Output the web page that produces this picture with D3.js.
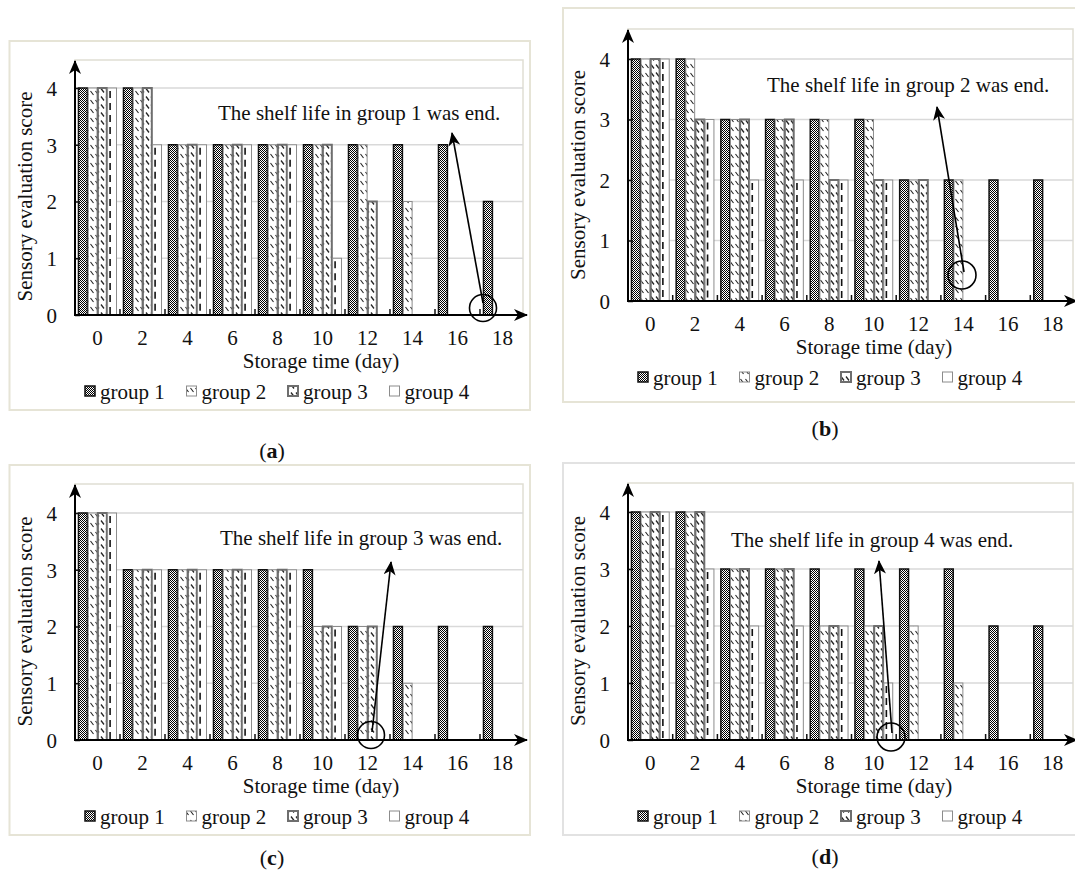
<!DOCTYPE html>
<html>
<head>
<meta charset="utf-8">
<script src="https://cdn.jsdelivr.net/npm/d3@7"></script>
<style>
body { margin: 0; background: #fff; }
text { font-family: "Liberation Serif", "Times New Roman", serif; fill: #111; }
</style>
</head>
<body>
<script>
var days = ["0", "2", "4", "6", "8", "10", "12", "14", "16", "18"];
var groups = ["group 1", "group 2", "group 3", "group 4"];
var yTicks = [0, 1, 2, 3, 4];

// one array per group, null = group no longer scored
var scoresA = [
    [4, 4, 3, 3, 3, 3, 3, 3, 3, 2],
    [4, 4, 3, 3, 3, 3, 3, 2, null, null],
    [4, 4, 3, 3, 3, 3, 2, null, null, null],
    [4, 3, 3, 3, 3, 1, null, null, null, null]
];
var scoresB = [
    [4, 4, 3, 3, 3, 3, 2, 2, 2, 2],
    [4, 4, 3, 3, 3, 3, 2, 2, null, null],
    [4, 3, 3, 3, 2, 2, 2, null, null, null],
    [4, 3, 2, 2, 2, 2, null, null, null, null]
];
var scoresC = [
    [4, 3, 3, 3, 3, 3, 2, 2, 2, 2],
    [4, 3, 3, 3, 3, 2, 2, 1, null, null],
    [4, 3, 3, 3, 3, 2, 2, null, null, null],
    [4, 3, 3, 3, 3, 2, null, null, null, null]
];
var scoresD = [
    [4, 4, 3, 3, 3, 3, 3, 3, 2, 2],
    [4, 4, 3, 3, 2, 2, 2, 1, null, null],
    [4, 4, 3, 3, 2, 2, null, null, null, null],
    [4, 3, 2, 2, 2, 1, null, null, null, null]
];
var notes = [
    "The shelf life in group 1 was end.",
    "The shelf life in group 2 was end.",
    "The shelf life in group 3 was end.",
    "The shelf life in group 4 was end."
];
var letters = ["a", "b", "c", "d"];

var panels = [
    {scores: scoresA, frame: [9.5, 41, 530, 410], frameColor: "#e6e4d6", x0: 75, x1: 525, y0: 315, y4: 88, top: 60,
     cap: [272, 458], note: [218, 120], tip: [452, 133], tail: [483, 303], ring: [483, 308, 13.5]},
    {scores: scoresB, frame: [563, 8, 1080, 402], frameColor: "#e6e4d6", x0: 628, x1: 1075, y0: 301, y4: 59, top: 29,
     cap: [825, 436], note: [767, 92], tip: [937, 107], tail: [964, 272], ring: [962, 275, 14]},
    {scores: scoresC, frame: [9.5, 465, 530, 835], frameColor: "#e6e4d6", x0: 75, x1: 525, y0: 740, y4: 513, top: 484,
     cap: [272, 865], note: [220, 545], tip: [391, 562], tail: [372, 732], ring: [371, 735, 13.5]},
    {scores: scoresD, frame: [563, 463, 1080, 835], frameColor: "#e2e2e2", x0: 628, x1: 1075, y0: 740, y4: 512, top: 483,
     cap: [825, 864], note: [731, 547], tip: [879, 561], tail: [892, 733], ring: [891, 737, 14]}
];

var svg = d3.select("body").append("svg")
    .attr("width", 1075)
    .attr("height", 870);
var defs = svg.append("defs");

var p1 = defs.append("pattern").attr("id", "p1")
    .attr("patternUnits", "userSpaceOnUse").attr("width", 2).attr("height", 2);
p1.append("rect").attr("width", 2).attr("height", 2).attr("fill", "#fff");
p1.append("rect").attr("width", 1).attr("height", 1).attr("fill", "#000");
p1.append("rect").attr("x", 1).attr("y", 1).attr("width", 1).attr("height", 1).attr("fill", "#000");

var p2 = defs.append("pattern").attr("id", "p2")
    .attr("patternUnits", "userSpaceOnUse").attr("width", 5).attr("height", 9);
p2.append("rect").attr("width", 5).attr("height", 9).attr("fill", "#fff");
p2.append("path").attr("d", "M0.5,1L3.5,5").attr("stroke", "#222").attr("stroke-width", 1.1);

var p3 = defs.append("pattern").attr("id", "p3")
    .attr("patternUnits", "userSpaceOnUse").attr("width", 5).attr("height", 8);
p3.append("rect").attr("width", 5).attr("height", 8).attr("fill", "#fff");
p3.append("path").attr("d", "M1,0.5L4,4.5").attr("stroke", "#222").attr("stroke-width", 1.3);

defs.append("marker").attr("id", "arr")
    .attr("viewBox", "0 0 14 12")
    .attr("markerUnits", "userSpaceOnUse")
    .attr("markerWidth", 14).attr("markerHeight", 12)
    .attr("refX", 13).attr("refY", 6)
    .attr("orient", "auto")
  .append("path").attr("d", "M0,0L14,6L0,12L4,6Z").attr("fill", "#000");

var barStyle = [
    {fill: "url(#p1)", stroke: "#111", sw: 1.5},
    {fill: "url(#p2)", stroke: "#8c8c8c", sw: 1},
    {fill: "url(#p3)", stroke: "#6e6e6e", sw: 2},
    {fill: "#fff", stroke: "#8c8c8c", sw: 1}
];

panels.forEach(function (p, k) {
    var g = svg.append("g");
    var f = p.frame;

    g.append("rect")
        .attr("x", f[0]).attr("y", f[1])
        .attr("width", f[2] - f[0]).attr("height", f[3] - f[1])
        .attr("fill", "#fff").attr("stroke", p.frameColor).attr("stroke-width", 2);

    var x = d3.scaleBand().domain(days).range([p.x0, p.x1])
        .paddingInner(0.155).paddingOuter(0.0775);
    var xg = d3.scaleBand().domain(groups).range([0, x.bandwidth()]).paddingInner(0.08);
    var y = d3.scaleLinear().domain([0, 4]).range([p.y0, p.y4]);

    g.append("rect")
        .attr("x", p.x0).attr("y", p.top)
        .attr("width", p.x1 - 2 - p.x0).attr("height", p.y0 - p.top)
        .attr("fill", "none").attr("stroke", "#e0ded3").attr("stroke-width", 1.5);

    g.selectAll(".grid").data(yTicks.filter(function (t) { return t > 0; })).enter()
        .append("line")
        .attr("x1", p.x0).attr("x2", p.x1 - 2)
        .attr("y1", function (t) { return y(t); })
        .attr("y2", function (t) { return y(t); })
        .attr("stroke", "#d9d9d9").attr("stroke-width", 1.5);

    p.scores.forEach(function (vals, gi) {
        var rows = days.map(function (d, i) { return {day: d, v: vals[i]}; })
            .filter(function (r) { return r.v !== null; });
        var st = barStyle[gi];
        g.selectAll(".bar" + gi).data(rows).enter()
            .append("rect")
            .attr("x", function (r) { return x(r.day) + xg(groups[gi]); })
            .attr("y", function (r) { return y(r.v); })
            .attr("width", xg.bandwidth())
            .attr("height", function (r) { return p.y0 - y(r.v); })
            .attr("fill", st.fill).attr("stroke", st.stroke).attr("stroke-width", st.sw);
        if (gi === 3) {
            g.selectAll(".dash").data(rows).enter()
                .append("line")
                .attr("x1", function (r) { return x(r.day) + xg(groups[gi]) + 2.5; })
                .attr("x2", function (r) { return x(r.day) + xg(groups[gi]) + 2.5; })
                .attr("y1", function (r) { return y(r.v) + 3; })
                .attr("y2", p.y0)
                .attr("stroke", "#111").attr("stroke-width", 1.6)
                .attr("stroke-dasharray", "7,5");
        }
    });

    // small marks between the days
    var gap = (x.step() - x.bandwidth()) / 2;
    g.selectAll(".sep").data(days.slice(1)).enter()
        .append("line")
        .attr("x1", function (d) { return x(d) - gap; })
        .attr("x2", function (d) { return x(d) - gap; })
        .attr("y1", p.y0).attr("y2", p.y0 - 6)
        .attr("stroke", "#111").attr("stroke-width", 1.5);

    var xa = g.append("g").attr("transform", "translate(0," + p.y0 + ")")
        .call(d3.axisBottom(x).tickSize(0));
    xa.select(".domain").remove();
    xa.selectAll("text").attr("y", 30).attr("dy", 0)
        .style("font-size", "21px").style("font-family", "Liberation Serif");

    var ya = g.append("g").attr("transform", "translate(" + p.x0 + ",0)")
        .call(d3.axisLeft(y).tickValues(yTicks).tickSize(-5).tickFormat(d3.format("d")));
    ya.select(".domain").remove();
    ya.selectAll("line").attr("stroke", "#111").attr("stroke-width", 1.5);
    ya.selectAll("text").attr("x", -18).attr("dy", "0.35em")
        .style("font-size", "21px").style("font-family", "Liberation Serif");

    g.append("line")
        .attr("x1", p.x0 - 1).attr("x2", p.x1 + 2)
        .attr("y1", p.y0).attr("y2", p.y0)
        .attr("stroke", "#000").attr("stroke-width", 2)
        .attr("marker-end", "url(#arr)");
    g.append("line")
        .attr("x1", p.x0).attr("x2", p.x0)
        .attr("y1", p.y0 + 1).attr("y2", p.top + 1)
        .attr("stroke", "#000").attr("stroke-width", 2)
        .attr("marker-end", "url(#arr)");

    g.append("text")
        .attr("x", p.x0 + 246).attr("y", p.y0 + 53)
        .attr("text-anchor", "middle").style("font-size", "21px")
        .text("Storage time (day)");

    g.append("text")
        .attr("transform", "translate(" + (p.x0 - 43) + "," + ((p.y0 + p.y4) / 2 - 5) + ") rotate(-90)")
        .attr("text-anchor", "middle").style("font-size", "21px")
        .text("Sensory evaluation score");

    groups.forEach(function (name, gi) {
        var lx = p.x0 + 10 + gi * 101.5,
            ly = p.y0 + 84;
        var st = barStyle[gi];
        g.append("rect")
            .attr("x", lx).attr("y", ly - 13)
            .attr("width", 10).attr("height", 10)
            .attr("fill", st.fill).attr("stroke", st.stroke).attr("stroke-width", st.sw);
        g.append("text").attr("x", lx + 15).attr("y", ly)
            .style("font-size", "21px").text(name);
    });

    g.append("text")
        .attr("x", p.note[0]).attr("y", p.note[1])
        .style("font-size", "21px").text(notes[k]);
    g.append("line")
        .attr("x1", p.tail[0]).attr("y1", p.tail[1])
        .attr("x2", p.tip[0]).attr("y2", p.tip[1])
        .attr("stroke", "#000").attr("stroke-width", 1.6)
        .attr("marker-end", "url(#arr)");
    g.append("circle")
        .attr("cx", p.ring[0]).attr("cy", p.ring[1]).attr("r", p.ring[2])
        .attr("fill", "none").attr("stroke", "#000").attr("stroke-width", 1.6);

    var cap = svg.append("text")
        .attr("x", p.cap[0]).attr("y", p.cap[1])
        .attr("text-anchor", "middle").style("font-size", "22px");
    cap.append("tspan").text("(");
    cap.append("tspan").style("font-weight", "bold").text(letters[k]);
    cap.append("tspan").text(")");
});
</script>
</body>
</html>
